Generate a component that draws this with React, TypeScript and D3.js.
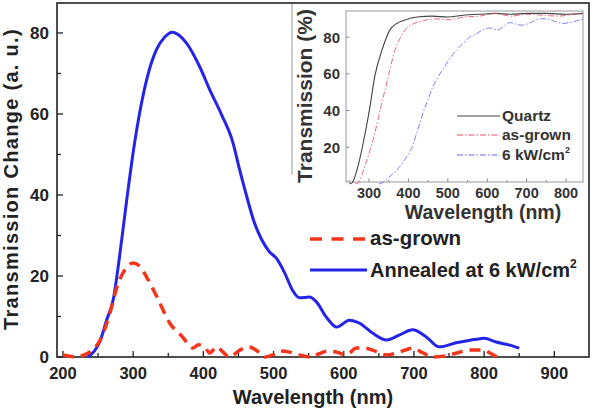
import * as d3 from "d3";
import { useEffect, useRef } from "react";

const W = 598;
const H = 411;

// [wavelength nm, transmission change a.u.]
const annealed: [number, number][] = [
  [235, 0], [245, 1.5], [253, 4], [262, 9], [272, 14.5], [280, 24], [291, 39],
  [300, 50.5], [310, 61], [320, 69], [333, 75.8], [345, 79], [356, 80.2],
  [365, 79.5], [376, 77.5], [395, 71.6], [409, 66], [426, 59.8], [442, 53],
  [452, 46], [462, 39.5], [472, 33.5], [483, 29], [494, 26], [504, 24.4],
  [516, 20.7], [527, 16.5], [537, 14.6], [551, 14.8], [561, 13.6], [575, 9.9],
  [590, 7.4], [608, 9.1], [622, 8.4], [641, 5.9], [661, 4.2], [679, 5.4],
  [698, 6.7], [718, 4.9], [736, 2.5], [760, 3.5], [789, 4.4], [800, 4.6],
  [817, 3.7], [835, 3], [850, 2.2],
];

const asGrown: [number, number][] = [
  [200, 0.5], [210, 0.2], [220, 0], [230, 0.5], [240, 1.5], [253, 4.2],
  [267, 10.9], [277, 17.3], [290, 22], [300, 23.2], [310, 22.3], [319, 19.8],
  [334, 14.8], [352, 8.4], [370, 5], [385, 2.2], [393, 3], [402, 2.5],
  [409, 1], [419, 2.5], [428, 1.2], [437, 0], [452, 1.7], [465, 2.5],
  [479, 1.2], [488, 0], [499, 0.5], [510, 1.5], [523, 1.2], [537, 0.5],
  [552, 0], [565, 0.8], [578, 1.5], [590, 1.2], [604, 0.5], [618, 2.2],
  [630, 2.2], [641, 1.7], [661, 0.5], [679, 1.2], [698, 2.2], [713, 1],
  [727, 0], [745, 0.3], [761, 1], [779, 1.7], [798, 1.7], [810, 0.8], [818, 0],
];

const xTicks = [200, 300, 400, 500, 600, 700, 800, 900];
const xMinorTicks = [250, 350, 450, 550, 650, 750, 850];
const yTicks = [0, 20, 40, 60, 80];
const yMinorTicks = [10, 30, 50, 70];

// inset: transmission (%)
const quartz: [number, number][] = [
  [250, 0], [257, 0.5], [270, 8], [285, 22], [300, 39], [315, 59], [333, 73],
  [353, 84], [370, 87.5], [386, 89], [422, 91], [460, 91.5], [500, 91],
  [540, 92], [580, 92.5], [620, 93], [660, 92.5], [700, 93], [750, 93],
  [800, 92.5], [843, 93],
];
const insetAsGrown: [number, number][] = [
  [265, 0], [272, 0.5], [290, 10], [315, 28], [330, 42], [345, 55], [366, 73],
  [380, 80], [396, 85], [437, 89], [470, 90], [500, 89.5], [540, 91],
  [580, 91.5], [620, 93], [660, 91.5], [700, 92.5], [740, 92], [780, 91.5],
  [820, 92.5], [843, 93],
];
const insetAnnealed: [number, number][] = [
  [325, 0], [333, 0.5], [350, 3.5], [371, 7.6], [390, 13], [409, 20],
  [423, 29], [437, 38.7], [450, 46], [462, 53], [477, 59], [492, 64],
  [507, 69], [522, 73], [540, 77], [555, 80], [570, 81.5], [588, 84],
  [606, 85], [627, 84], [642, 86], [657, 88], [675, 87], [690, 86.6],
  [710, 88], [733, 90], [750, 90], [767, 89], [792, 87.5], [810, 88],
  [828, 89], [843, 90],
];
const insetXTicks = [300, 400, 500, 600, 700, 800];
const insetXMinor = [250, 350, 450, 550, 650, 750];
const insetYTicks = [20, 40, 60, 80];

const FONT = "'Liberation Sans', Arial, sans-serif";
const INK = "#222";

export default function App() {
  const ref = useRef<SVGSVGElement>(null);

  useEffect(() => {
    const svg = d3.select(ref.current);
    svg.selectAll("*").remove();

    const x = d3.scaleLinear().domain([191.5, 949.4]).range([57, 589]);
    const y = d3.scaleLinear().domain([0, 87.4]).range([357, 3]);
    const [x0, x1] = x.range();
    const [y0, y1] = y.range();

    svg.append("rect").attr("width", W).attr("height", H).attr("fill", "#fff");

    // --- inset panel ---
    const ix = d3.scaleLinear().domain([241.6, 843]).range([346, 583]);
    const iy = d3.scaleLinear().domain([1, 94.3]).range([182, 11]);
    const inset = svg.append("g");

    inset
      .append("line")
      .attr("x1", 292).attr("x2", 292)
      .attr("y1", y1).attr("y2", 175)
      .attr("stroke", "#999").attr("stroke-width", 1);

    inset
      .append("rect")
      .attr("x", ix.range()[0]).attr("y", iy.range()[1])
      .attr("width", ix.range()[1] - ix.range()[0])
      .attr("height", iy.range()[0] - iy.range()[1])
      .attr("fill", "#fff").attr("stroke", "#999").attr("stroke-width", 1);

    const iLine = d3
      .line<[number, number]>()
      .x((d) => ix(d[0]))
      .y((d) => iy(d[1]))
      .curve(d3.curveMonotoneX);

    inset.append("path").datum(quartz).attr("d", iLine)
      .attr("fill", "none").attr("stroke", "#444").attr("stroke-width", 1.1);
    inset.append("path").datum(insetAsGrown).attr("d", iLine)
      .attr("fill", "none").attr("stroke", "#e0506a").attr("stroke-width", 1)
      .attr("stroke-dasharray", "6,2,1.5,2").attr("opacity", 0.85);
    inset.append("path").datum(insetAnnealed).attr("d", iLine)
      .attr("fill", "none").attr("stroke", "#6a6ae6").attr("stroke-width", 1)
      .attr("stroke-dasharray", "6,2,1.5,2").attr("opacity", 0.85);

    const iy0 = iy.range()[0];
    const ix0 = ix.range()[0];
    inset.selectAll(".ixt").data(insetXTicks.concat(insetXMinor)).enter()
      .append("line")
      .attr("x1", (d) => ix(d)).attr("x2", (d) => ix(d))
      .attr("y1", iy0).attr("y2", (d) => iy0 - (d % 100 === 0 ? 3.5 : 2))
      .attr("stroke", "#888");
    inset.selectAll(".iyt").data(insetYTicks).enter()
      .append("line")
      .attr("x1", ix0).attr("x2", ix0 + 3.5)
      .attr("y1", (d) => iy(d)).attr("y2", (d) => iy(d))
      .attr("stroke", "#888");

    inset.selectAll(".ixl").data(insetXTicks).enter()
      .append("text")
      .attr("x", (d) => ix(d)).attr("y", 198)
      .attr("text-anchor", "middle")
      .attr("font-family", FONT).attr("font-weight", "bold")
      .attr("font-size", 14.5).attr("fill", "#333")
      .text((d) => d);
    inset.selectAll(".iyl").data(insetYTicks).enter()
      .append("text")
      .attr("x", 340).attr("y", (d) => iy(d) + 5.5)
      .attr("text-anchor", "end")
      .attr("font-family", FONT).attr("font-weight", "bold")
      .attr("font-size", 15).attr("fill", "#333")
      .text((d) => d);

    inset.append("text")
      .attr("transform", "translate(312,96) rotate(-90)")
      .attr("text-anchor", "middle")
      .attr("font-family", FONT).attr("font-weight", "bold")
      .attr("font-size", 21).attr("fill", "#333")
      .text("Transmission (%)");
    inset.append("text")
      .attr("x", 483).attr("y", 219)
      .attr("text-anchor", "middle")
      .attr("font-family", FONT).attr("font-weight", "bold")
      .attr("font-size", 19.5).attr("fill", "#333")
      .text("Wavelength (nm)");

    // inset legend
    const iLegend = [
      { label: "Quartz", color: "#444", dash: null as string | null },
      { label: "as-grown", color: "#e0506a", dash: "6,2,1.5,2" },
      { label: "6 kW/cm", color: "#6a6ae6", dash: "6,2,1.5,2" },
    ];
    const iBase = [121, 140, 160];
    iLegend.forEach((d, i) => {
      inset.append("line")
        .attr("x1", 457).attr("x2", 500)
        .attr("y1", iBase[i] - 5).attr("y2", iBase[i] - 5)
        .attr("stroke", d.color).attr("stroke-width", 1.1)
        .attr("stroke-dasharray", d.dash);
      const t = inset.append("text")
        .attr("x", 502).attr("y", iBase[i])
        .attr("font-family", FONT).attr("font-weight", "bold")
        .attr("font-size", 15.5).attr("fill", "#333")
        .text(d.label);
      if (i === 2) {
        t.append("tspan").attr("dy", -7).attr("font-size", 9).text("2");
      }
    });

    // --- main frame ---
    svg.append("rect")
      .attr("x", x0).attr("y", y1)
      .attr("width", x1 - x0).attr("height", y0 - y1)
      .attr("fill", "none").attr("stroke", INK).attr("stroke-width", 1.6);

    svg.selectAll(".xt").data(xTicks.concat(xMinorTicks)).enter()
      .append("line")
      .attr("x1", (d) => x(d)).attr("x2", (d) => x(d))
      .attr("y1", y0).attr("y2", (d) => y0 - (d % 100 === 0 ? 6 : 4))
      .attr("stroke", INK).attr("stroke-width", 1.3);
    svg.selectAll(".yt").data(yTicks.concat(yMinorTicks)).enter()
      .append("line")
      .attr("x1", x0).attr("x2", (d) => x0 + (d % 20 === 0 ? 6 : 4))
      .attr("y1", (d) => y(d)).attr("y2", (d) => y(d))
      .attr("stroke", INK).attr("stroke-width", 1.3);

    svg.selectAll(".xl").data(xTicks).enter()
      .append("text")
      .attr("x", (d) => x(d)).attr("y", 379)
      .attr("text-anchor", "middle")
      .attr("font-family", FONT).attr("font-weight", "bold")
      .attr("font-size", 16.5).attr("fill", INK)
      .text((d) => d);
    svg.selectAll(".yl").data(yTicks).enter()
      .append("text")
      .attr("x", 49).attr("y", (d) => y(d) + 6)
      .attr("text-anchor", "end")
      .attr("font-family", FONT).attr("font-weight", "bold")
      .attr("font-size", 17).attr("fill", INK)
      .text((d) => d);

    svg.append("text")
      .attr("x", 313).attr("y", 404)
      .attr("text-anchor", "middle")
      .attr("font-family", FONT).attr("font-weight", "bold")
      .attr("font-size", 20).attr("fill", INK)
      .text("Wavelength (nm)");
    svg.append("text")
      .attr("transform", "translate(18,179) rotate(-90)")
      .attr("text-anchor", "middle")
      .attr("font-family", FONT).attr("font-weight", "bold")
      .attr("font-size", 20).attr("letter-spacing", 1.3).attr("fill", INK)
      .text("Transmission Change (a. u.)");

    // --- main curves ---
    const line = d3
      .line<[number, number]>()
      .x((d) => x(d[0]))
      .y((d) => y(d[1]))
      .curve(d3.curveMonotoneX);

    svg.append("path").datum(annealed).attr("d", line)
      .attr("fill", "none").attr("stroke", "#2424e8")
      .attr("stroke-width", 3).attr("stroke-linejoin", "round");
    svg.append("path").datum(asGrown).attr("d", line)
      .attr("fill", "none").attr("stroke", "#f5341c")
      .attr("stroke-width", 3.5).attr("stroke-dasharray", "11,7");

    // --- main legend ---
    svg.append("line")
      .attr("x1", 310).attr("x2", 365).attr("y1", 239).attr("y2", 239)
      .attr("stroke", "#f5341c").attr("stroke-width", 3.5)
      .attr("stroke-dasharray", "12,9.5");
    svg.append("text")
      .attr("x", 370).attr("y", 245)
      .attr("font-family", FONT).attr("font-weight", "bold")
      .attr("font-size", 20.5).attr("fill", INK)
      .text("as-grown");
    svg.append("line")
      .attr("x1", 310).attr("x2", 367).attr("y1", 270).attr("y2", 270)
      .attr("stroke", "#2424e8").attr("stroke-width", 3);
    const ann = svg.append("text")
      .attr("x", 370).attr("y", 277)
      .attr("font-family", FONT).attr("font-weight", "bold")
      .attr("font-size", 20).attr("fill", INK)
      .text("Annealed at 6 kW/cm");
    ann.append("tspan").attr("dy", -9).attr("font-size", 12).text("2");
  }, []);

  return (
    <svg
      ref={ref}
      width={W}
      height={H}
      style={{ position: "absolute", left: 0, top: 0 }}
    />
  );
}
